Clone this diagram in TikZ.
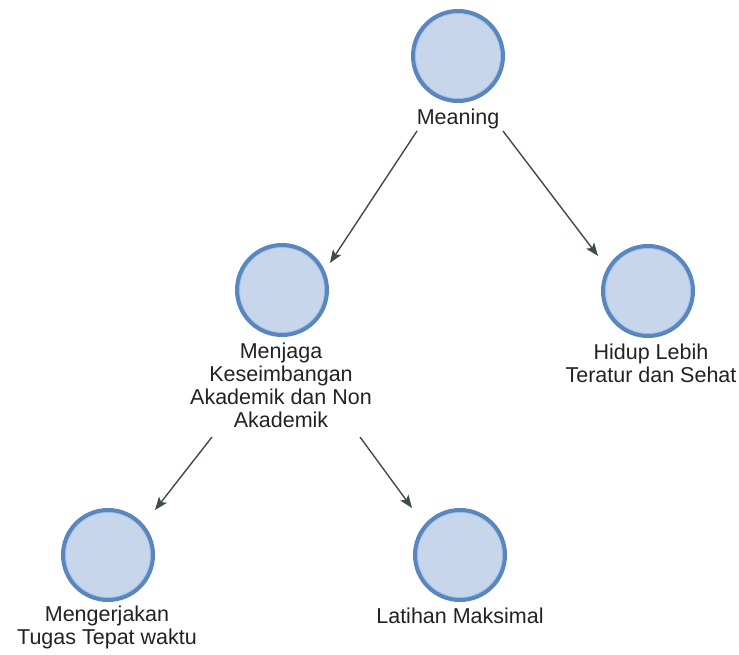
\documentclass[tikz,border=0pt]{standalone}
\usepackage{fontspec}
\setmainfont{Liberation Sans}
\usetikzlibrary{arrows.meta}
\definecolor{cfill}{HTML}{C8D6EC}
\definecolor{cline}{HTML}{5A86BE}
\definecolor{cring}{HTML}{A8C4EC}
\definecolor{carrow}{HTML}{3D4C4A}
\definecolor{ctext}{HTML}{222222}
\begin{document}
\begin{tikzpicture}[x=1pt,y=-1pt,
  concept/.style={circle,draw=cline,line width=4pt,fill=cfill,minimum size=90pt,inner sep=0pt,
    path picture={\draw[cring,line width=1.2pt] (path picture bounding box.center) circle (42.6pt);}},
  lbl/.style={anchor=north,align=center,inner sep=0pt,text=ctext,font=\fontsize{21.5}{23}\selectfont},
  arr/.style={draw=carrow,line width=1.4pt,-{Stealth[length=13pt,width=10pt,inset=3pt]}}]
\useasboundingbox (0,0) rectangle (739,655);

\node[concept] (meaning) at (458,56) {};
\node[lbl] (meaningL) at (458,108.5) {Meaning};

\node[concept] (menjaga) at (282,290) {};
\node[lbl] (menjagaL) at (281,342.5) {Menjaga\\Keseimbangan\\Akademik dan Non\\Akademik};

\node[concept] (hidup) at (648,291) {};
\node[lbl] (hidupL) at (651,343.5) {Hidup Lebih\\Teratur dan Sehat};

\node[concept] (kerja) at (108,555) {};
\node[lbl] (kerjaL) at (107,606) {Mengerjakan\\Tugas Tepat waktu};

\node[concept] (latihan) at (460,555) {};
\node[lbl] (latihanL) at (460,607.5) {Latihan Maksimal};

\coordinate (a1s) at (417,131); \coordinate (a1e) at (330,263);
\coordinate (a2s) at (503,131); \coordinate (a2e) at (598,256);
\coordinate (a3s) at (212,437); \coordinate (a3e) at (155,510);
\coordinate (a4s) at (360,437); \coordinate (a4e) at (412,508);

\draw[arr] (a1s) -- (a1e);
\draw[arr] (a2s) -- (a2e);
\draw[arr] (a3s) -- (a3e);
\draw[arr] (a4s) -- (a4e);
\end{tikzpicture}
\end{document}
